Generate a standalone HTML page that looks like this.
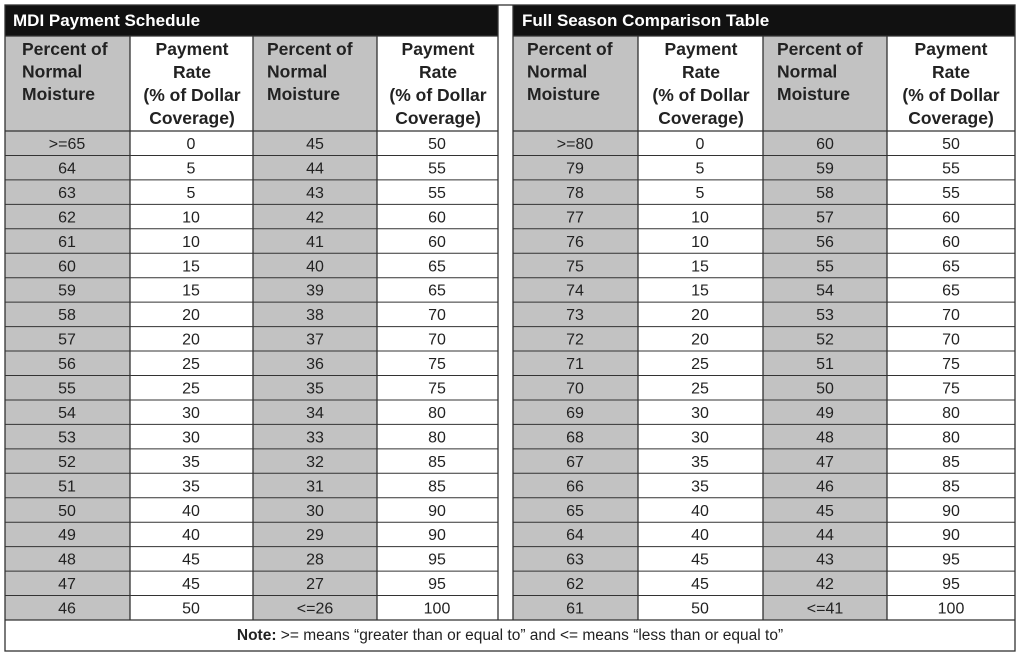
<!DOCTYPE html>
<html><head><meta charset="utf-8"><style>
html,body{margin:0;padding:0;background:#fff;}
svg{display:block;font-family:"Liberation Sans",Arial,Helvetica,sans-serif;}
.d{font-size:16px;fill:#222;text-anchor:middle;}
.h{font-size:17.5px;font-weight:bold;fill:#222;}
.hc{font-size:17.5px;font-weight:bold;fill:#222;text-anchor:middle;}
</style></head><body>
<svg width="1024" height="659" viewBox="0 0 1024 659">
<defs>
<g id="rl" stroke="#333" stroke-width="1">
<line x1="0" y1="155.45" x2="1" y2="155.45"/><line x1="0" y1="179.9" x2="1" y2="179.9"/><line x1="0" y1="204.35" x2="1" y2="204.35"/><line x1="0" y1="228.8" x2="1" y2="228.8"/><line x1="0" y1="253.25" x2="1" y2="253.25"/><line x1="0" y1="277.7" x2="1" y2="277.7"/><line x1="0" y1="302.15" x2="1" y2="302.15"/><line x1="0" y1="326.6" x2="1" y2="326.6"/><line x1="0" y1="351.05" x2="1" y2="351.05"/><line x1="0" y1="375.5" x2="1" y2="375.5"/><line x1="0" y1="399.95" x2="1" y2="399.95"/><line x1="0" y1="424.4" x2="1" y2="424.4"/><line x1="0" y1="448.85" x2="1" y2="448.85"/><line x1="0" y1="473.3" x2="1" y2="473.3"/><line x1="0" y1="497.75" x2="1" y2="497.75"/><line x1="0" y1="522.2" x2="1" y2="522.2"/><line x1="0" y1="546.65" x2="1" y2="546.65"/><line x1="0" y1="571.1" x2="1" y2="571.1"/><line x1="0" y1="595.55" x2="1" y2="595.55"/>
</g>
</defs>
<rect x="5" y="5" width="493" height="31" fill="#111"/>
<rect x="513" y="5" width="502" height="31" fill="#111"/>
<text x="13" y="26" font-size="17" font-weight="bold" fill="#fff">MDI Payment Schedule</text>
<text x="522" y="26" font-size="17" font-weight="bold" fill="#fff">Full Season Comparison Table</text>
<g fill="#c2c2c2">
<rect x="5" y="36" width="125" height="584"/>
<rect x="253" y="36" width="124" height="584"/>
<rect x="513" y="36" width="125" height="584"/>
<rect x="763" y="36" width="124" height="584"/>
</g>
<g stroke="#333" stroke-width="1.3" fill="none">
<rect x="5" y="5" width="1010" height="646"/>
<line x1="498" y1="5" x2="498" y2="620"/>
<line x1="513" y1="5" x2="513" y2="620"/>
<line x1="130" y1="36" x2="130" y2="620"/>
<line x1="253" y1="36" x2="253" y2="620"/>
<line x1="377" y1="36" x2="377" y2="620"/>
<line x1="638" y1="36" x2="638" y2="620"/>
<line x1="763" y1="36" x2="763" y2="620"/>
<line x1="887" y1="36" x2="887" y2="620"/>
<line x1="5" y1="36" x2="498" y2="36"/>
<line x1="513" y1="36" x2="1015" y2="36"/>
<line x1="5" y1="131" x2="498" y2="131"/>
<line x1="513" y1="131" x2="1015" y2="131"/>
<line x1="5" y1="620" x2="1015" y2="620"/>
</g>
<use href="#rl" transform="translate(5,0) scale(493,1)" />
<use href="#rl" transform="translate(513,0) scale(502,1)" />
<text class="h"><tspan x="22" y="55">Percent of</tspan><tspan x="22" y="77.5">Normal</tspan><tspan x="22" y="100">Moisture</tspan></text>
<text class="h"><tspan x="267" y="55">Percent of</tspan><tspan x="267" y="77.5">Normal</tspan><tspan x="267" y="100">Moisture</tspan></text>
<text class="h"><tspan x="527" y="55">Percent of</tspan><tspan x="527" y="77.5">Normal</tspan><tspan x="527" y="100">Moisture</tspan></text>
<text class="h"><tspan x="777" y="55">Percent of</tspan><tspan x="777" y="77.5">Normal</tspan><tspan x="777" y="100">Moisture</tspan></text>
<text class="hc"><tspan x="192" y="55">Payment</tspan><tspan x="192" y="78">Rate</tspan><tspan x="192" y="101">(% of Dollar</tspan><tspan x="192" y="124">Coverage)</tspan></text>
<text class="hc"><tspan x="438" y="55">Payment</tspan><tspan x="438" y="78">Rate</tspan><tspan x="438" y="101">(% of Dollar</tspan><tspan x="438" y="124">Coverage)</tspan></text>
<text class="hc"><tspan x="701" y="55">Payment</tspan><tspan x="701" y="78">Rate</tspan><tspan x="701" y="101">(% of Dollar</tspan><tspan x="701" y="124">Coverage)</tspan></text>
<text class="hc"><tspan x="951" y="55">Payment</tspan><tspan x="951" y="78">Rate</tspan><tspan x="951" y="101">(% of Dollar</tspan><tspan x="951" y="124">Coverage)</tspan></text>
<text class="d" y="149"><tspan x="67" dy="0">&gt;=65</tspan><tspan x="67" dy="24.45">64</tspan><tspan x="67" dy="24.45">63</tspan><tspan x="67" dy="24.45">62</tspan><tspan x="67" dy="24.45">61</tspan><tspan x="67" dy="24.45">60</tspan><tspan x="67" dy="24.45">59</tspan><tspan x="67" dy="24.45">58</tspan><tspan x="67" dy="24.45">57</tspan><tspan x="67" dy="24.45">56</tspan><tspan x="67" dy="24.45">55</tspan><tspan x="67" dy="24.45">54</tspan><tspan x="67" dy="24.45">53</tspan><tspan x="67" dy="24.45">52</tspan><tspan x="67" dy="24.45">51</tspan><tspan x="67" dy="24.45">50</tspan><tspan x="67" dy="24.45">49</tspan><tspan x="67" dy="24.45">48</tspan><tspan x="67" dy="24.45">47</tspan><tspan x="67" dy="24.45">46</tspan></text>
<text class="d" y="149"><tspan x="191" dy="0">0</tspan><tspan x="191" dy="24.45">5</tspan><tspan x="191" dy="24.45">5</tspan><tspan x="191" dy="24.45">10</tspan><tspan x="191" dy="24.45">10</tspan><tspan x="191" dy="24.45">15</tspan><tspan x="191" dy="24.45">15</tspan><tspan x="191" dy="24.45">20</tspan><tspan x="191" dy="24.45">20</tspan><tspan x="191" dy="24.45">25</tspan><tspan x="191" dy="24.45">25</tspan><tspan x="191" dy="24.45">30</tspan><tspan x="191" dy="24.45">30</tspan><tspan x="191" dy="24.45">35</tspan><tspan x="191" dy="24.45">35</tspan><tspan x="191" dy="24.45">40</tspan><tspan x="191" dy="24.45">40</tspan><tspan x="191" dy="24.45">45</tspan><tspan x="191" dy="24.45">45</tspan><tspan x="191" dy="24.45">50</tspan></text>
<text class="d" y="149"><tspan x="315" dy="0">45</tspan><tspan x="315" dy="24.45">44</tspan><tspan x="315" dy="24.45">43</tspan><tspan x="315" dy="24.45">42</tspan><tspan x="315" dy="24.45">41</tspan><tspan x="315" dy="24.45">40</tspan><tspan x="315" dy="24.45">39</tspan><tspan x="315" dy="24.45">38</tspan><tspan x="315" dy="24.45">37</tspan><tspan x="315" dy="24.45">36</tspan><tspan x="315" dy="24.45">35</tspan><tspan x="315" dy="24.45">34</tspan><tspan x="315" dy="24.45">33</tspan><tspan x="315" dy="24.45">32</tspan><tspan x="315" dy="24.45">31</tspan><tspan x="315" dy="24.45">30</tspan><tspan x="315" dy="24.45">29</tspan><tspan x="315" dy="24.45">28</tspan><tspan x="315" dy="24.45">27</tspan><tspan x="315" dy="24.45">&lt;=26</tspan></text>
<text class="d" y="149"><tspan x="437" dy="0">50</tspan><tspan x="437" dy="24.45">55</tspan><tspan x="437" dy="24.45">55</tspan><tspan x="437" dy="24.45">60</tspan><tspan x="437" dy="24.45">60</tspan><tspan x="437" dy="24.45">65</tspan><tspan x="437" dy="24.45">65</tspan><tspan x="437" dy="24.45">70</tspan><tspan x="437" dy="24.45">70</tspan><tspan x="437" dy="24.45">75</tspan><tspan x="437" dy="24.45">75</tspan><tspan x="437" dy="24.45">80</tspan><tspan x="437" dy="24.45">80</tspan><tspan x="437" dy="24.45">85</tspan><tspan x="437" dy="24.45">85</tspan><tspan x="437" dy="24.45">90</tspan><tspan x="437" dy="24.45">90</tspan><tspan x="437" dy="24.45">95</tspan><tspan x="437" dy="24.45">95</tspan><tspan x="437" dy="24.45">100</tspan></text>
<text class="d" y="149"><tspan x="575" dy="0">&gt;=80</tspan><tspan x="575" dy="24.45">79</tspan><tspan x="575" dy="24.45">78</tspan><tspan x="575" dy="24.45">77</tspan><tspan x="575" dy="24.45">76</tspan><tspan x="575" dy="24.45">75</tspan><tspan x="575" dy="24.45">74</tspan><tspan x="575" dy="24.45">73</tspan><tspan x="575" dy="24.45">72</tspan><tspan x="575" dy="24.45">71</tspan><tspan x="575" dy="24.45">70</tspan><tspan x="575" dy="24.45">69</tspan><tspan x="575" dy="24.45">68</tspan><tspan x="575" dy="24.45">67</tspan><tspan x="575" dy="24.45">66</tspan><tspan x="575" dy="24.45">65</tspan><tspan x="575" dy="24.45">64</tspan><tspan x="575" dy="24.45">63</tspan><tspan x="575" dy="24.45">62</tspan><tspan x="575" dy="24.45">61</tspan></text>
<text class="d" y="149"><tspan x="700" dy="0">0</tspan><tspan x="700" dy="24.45">5</tspan><tspan x="700" dy="24.45">5</tspan><tspan x="700" dy="24.45">10</tspan><tspan x="700" dy="24.45">10</tspan><tspan x="700" dy="24.45">15</tspan><tspan x="700" dy="24.45">15</tspan><tspan x="700" dy="24.45">20</tspan><tspan x="700" dy="24.45">20</tspan><tspan x="700" dy="24.45">25</tspan><tspan x="700" dy="24.45">25</tspan><tspan x="700" dy="24.45">30</tspan><tspan x="700" dy="24.45">30</tspan><tspan x="700" dy="24.45">35</tspan><tspan x="700" dy="24.45">35</tspan><tspan x="700" dy="24.45">40</tspan><tspan x="700" dy="24.45">40</tspan><tspan x="700" dy="24.45">45</tspan><tspan x="700" dy="24.45">45</tspan><tspan x="700" dy="24.45">50</tspan></text>
<text class="d" y="149"><tspan x="825" dy="0">60</tspan><tspan x="825" dy="24.45">59</tspan><tspan x="825" dy="24.45">58</tspan><tspan x="825" dy="24.45">57</tspan><tspan x="825" dy="24.45">56</tspan><tspan x="825" dy="24.45">55</tspan><tspan x="825" dy="24.45">54</tspan><tspan x="825" dy="24.45">53</tspan><tspan x="825" dy="24.45">52</tspan><tspan x="825" dy="24.45">51</tspan><tspan x="825" dy="24.45">50</tspan><tspan x="825" dy="24.45">49</tspan><tspan x="825" dy="24.45">48</tspan><tspan x="825" dy="24.45">47</tspan><tspan x="825" dy="24.45">46</tspan><tspan x="825" dy="24.45">45</tspan><tspan x="825" dy="24.45">44</tspan><tspan x="825" dy="24.45">43</tspan><tspan x="825" dy="24.45">42</tspan><tspan x="825" dy="24.45">&lt;=41</tspan></text>
<text class="d" y="149"><tspan x="951" dy="0">50</tspan><tspan x="951" dy="24.45">55</tspan><tspan x="951" dy="24.45">55</tspan><tspan x="951" dy="24.45">60</tspan><tspan x="951" dy="24.45">60</tspan><tspan x="951" dy="24.45">65</tspan><tspan x="951" dy="24.45">65</tspan><tspan x="951" dy="24.45">70</tspan><tspan x="951" dy="24.45">70</tspan><tspan x="951" dy="24.45">75</tspan><tspan x="951" dy="24.45">75</tspan><tspan x="951" dy="24.45">80</tspan><tspan x="951" dy="24.45">80</tspan><tspan x="951" dy="24.45">85</tspan><tspan x="951" dy="24.45">85</tspan><tspan x="951" dy="24.45">90</tspan><tspan x="951" dy="24.45">90</tspan><tspan x="951" dy="24.45">95</tspan><tspan x="951" dy="24.45">95</tspan><tspan x="951" dy="24.45">100</tspan></text>
<text x="510" y="640" font-size="15.5" fill="#222" text-anchor="middle"><tspan font-weight="bold">Note:</tspan> &gt;= means “greater than or equal to” and &lt;= means “less than or equal to”</text>
</svg>
</body></html>
